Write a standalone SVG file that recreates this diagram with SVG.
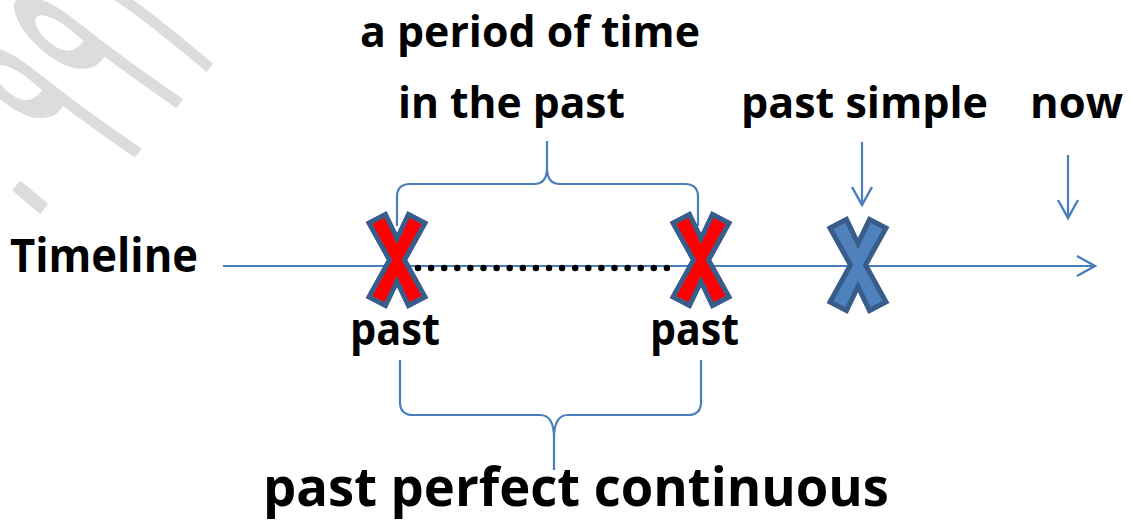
<svg xmlns="http://www.w3.org/2000/svg" width="1133" height="520" viewBox="0 0 1133 520">
<defs>
<style>
.t{font-family:"Open Sans","Liberation Sans",sans-serif;font-weight:bold;fill:#000}
.ln{fill:none;stroke:#4a7ebb;stroke-width:2.2}
.xr{fill:#ff0000;stroke:#385d8a;stroke-width:5;stroke-linejoin:miter}
.xb{fill:#4f81bd;stroke:#385d8a;stroke-width:5;stroke-linejoin:miter}
.wm{font-family:"DejaVu Sans",sans-serif;fill:#dcdcdc;font-size:300px}
</style>
<marker id="ah" markerUnits="userSpaceOnUse" markerWidth="30" markerHeight="30" viewBox="-22 -15 30 30" refX="0" refY="0" orient="auto">
<path d="M-18,-10 L0,0 L-18,10" fill="none" stroke="#4a7ebb" stroke-width="2.4"/>
</marker>
<polygon id="xs" points="-28,-37 -11.5,-45.5 0,-21.5 11.5,-45.5 28,-37 7.5,0 28,37 11.5,45.5 0,21.5 -11.5,45.5 -28,37 -7.5,0"/>
</defs>
<rect width="1133" height="520" fill="#fff"/>
<g id="watermark">
<text class="wm" transform="translate(74,276) rotate(-50) scale(0.4,1)">۰</text>
<text class="wm" transform="translate(104,194) rotate(-50) scale(0.4,1)">۹۹۱</text>
</g>
<g id="connectors">
<line class="ln" x1="223" y1="266" x2="1095" y2="266" marker-end="url(#ah)"/>
<line class="ln" x1="862" y1="142" x2="862" y2="205" marker-end="url(#ah)"/>
<line class="ln" x1="1068" y1="155" x2="1068" y2="218" marker-end="url(#ah)"/>
<path class="ln" d="M397,226 L397,197 Q397,184 410,184 L534,184 Q547,184 547,168 L547,141 M547,168 Q547,184 560,184 L685,184 Q698,184 698,197 L698,226"/>
<path class="ln" d="M400,360 L400,402 Q400,415 413,415 L540,415 Q554,415 554,438 L554,470 M554,438 Q554,415 568,415 L688,415 Q701,415 701,402 L701,360"/>
<line x1="418" y1="268" x2="680" y2="268" stroke="#000" stroke-width="6.5" stroke-linecap="round" stroke-dasharray="0 13.1"/>
</g>
<g id="x-left" transform="translate(397,260)"><use href="#xs" class="xr"/></g>
<g id="x-right" transform="translate(701,260)"><use href="#xs" class="xr"/></g>
<g id="x-simple" transform="translate(858,265)"><use href="#xs" class="xb"/></g>
<g id="label-period"><text class="t" x="360" y="47" font-size="43" textLength="340" lengthAdjust="spacingAndGlyphs">a period of time</text>
<text class="t" x="398" y="118" font-size="43" textLength="227" lengthAdjust="spacingAndGlyphs">in the past</text></g>
<g id="label-simple"><text class="t" x="741" y="118" font-size="43" textLength="247" lengthAdjust="spacingAndGlyphs">past simple</text></g>
<g id="label-now"><text class="t" x="1030" y="118" font-size="43" textLength="93" lengthAdjust="spacingAndGlyphs">now</text></g>
<g id="label-timeline"><text class="t" x="10" y="272" font-size="46" textLength="188" lengthAdjust="spacingAndGlyphs">Timeline</text></g>
<g id="label-past1"><text class="t" x="350" y="345" font-size="44" textLength="90" lengthAdjust="spacingAndGlyphs">past</text></g>
<g id="label-past2"><text class="t" x="650" y="345" font-size="44" textLength="89" lengthAdjust="spacingAndGlyphs">past</text></g>
<g id="label-ppc"><text class="t" x="263" y="506" font-size="54" textLength="626" lengthAdjust="spacingAndGlyphs">past perfect continuous</text></g>
</svg>
